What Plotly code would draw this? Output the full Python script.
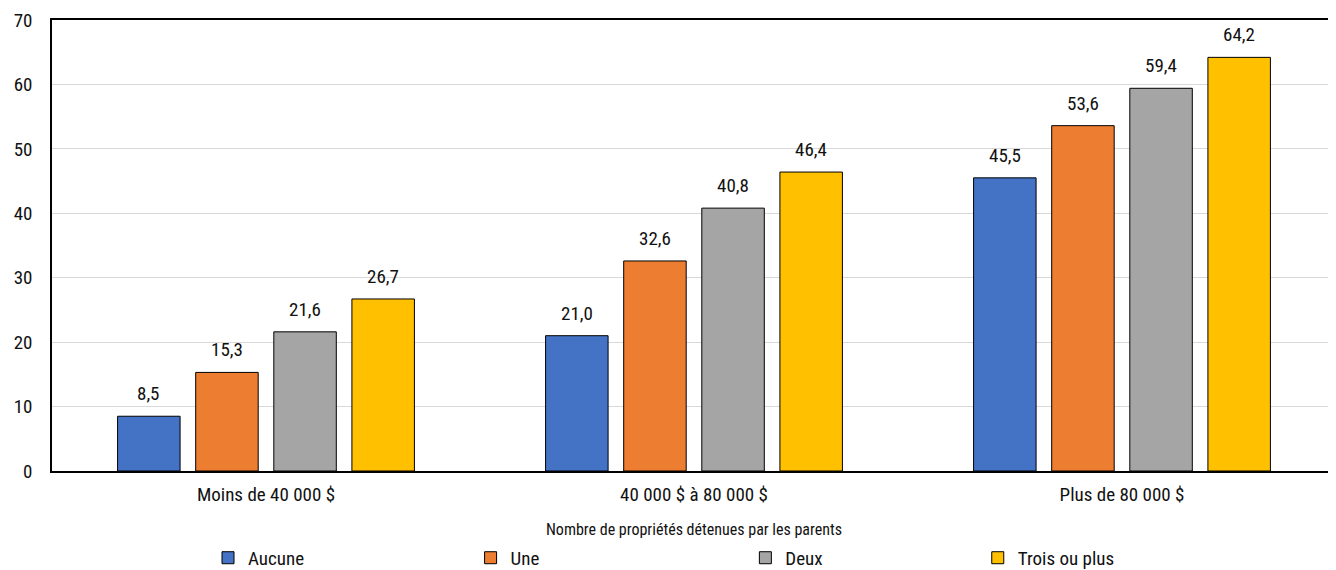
import plotly.graph_objects as go

categories = ["Moins de 40 000 $", "40 000 $ à 80 000 $", "Plus de 80 000 $"]
series_names = ["Aucune", "Une", "Deux", "Trois ou plus"]
aucune = [8.5, 21.0, 45.5]
une = [15.3, 32.6, 53.6]
deux = [21.6, 40.8, 59.4]
trois = [26.7, 46.4, 64.2]
series_values = [aucune, une, deux, trois]
colors = ["#4472C4", "#ED7D31", "#A5A5A5", "#FFC000"]
y_ticks = [0, 10, 20, 30, 40, 50, 60, 70]

FONT = "Liberation Sans Narrow, Roboto Condensed, Arial Narrow, DejaVu Sans Condensed, sans-serif"
BARGAP = 0.27
legend_x = [0.1215, 0.326, 0.540, 0.721]

fig = go.Figure()
n = len(series_names)
slot = (1 - BARGAP) / n
annotations = []
for j, (name, vals, col) in enumerate(zip(series_names, series_values, colors)):
    lname = "legend" if j == 0 else f"legend{j+1}"
    fig.add_trace(go.Bar(
        name=name, x=categories, y=vals,
        marker=dict(color=col, line=dict(color="#000000", width=1)),
        legend=lname, showlegend=True,
    ))
    for i, v in enumerate(vals):
        annotations.append(dict(
            x=i + (j - (n - 1) / 2) * slot, y=v, xref="x", yref="y",
            text=f"{v:.1f}".replace(".", ","), showarrow=False,
            yanchor="bottom", yshift=9,
            font=dict(family=FONT, size=19, color="#111111"),
        ))

legends = {}
for j in range(n):
    key = "legend" if j == 0 else f"legend{j+1}"
    legends[key] = dict(
        x=legend_x[j], y=-0.1505, xanchor="left", yanchor="top",
        orientation="h", font=dict(family=FONT, size=19, color="#111111"),
        bgcolor="rgba(0,0,0,0)", itemwidth=30, tracegroupgap=0, visible=True,
    )

# the page body adds an 8px offset, so margins are compensated
fig.update_layout(
    width=1336, height=570,
    margin=dict(l=44, r=8, t=12, b=107, autoexpand=False),
    paper_bgcolor="white", plot_bgcolor="white",
    barmode="group", bargap=BARGAP, bargroupgap=0.2,
    showlegend=True,
    font=dict(family=FONT, size=19, color="#111111"),
    annotations=annotations,
    **legends,
)
fig.update_xaxes(
    showline=True, linecolor="#000000", linewidth=1.5, mirror=True,
    ticks="", tickfont=dict(size=19), ticklabelstandoff=5,
    title=dict(text="Nombre de propriétés détenues par les parents",
               font=dict(size=16), standoff=19),
)
fig.update_yaxes(
    range=[0, 70], tickvals=y_ticks, showgrid=True, gridcolor="#D9D9D9",
    showline=True, linecolor="#000000", linewidth=1.5, mirror=True,
    zeroline=False, tickfont=dict(size=19), ticklabelstandoff=14,
)

fig.write_html("out.html")
